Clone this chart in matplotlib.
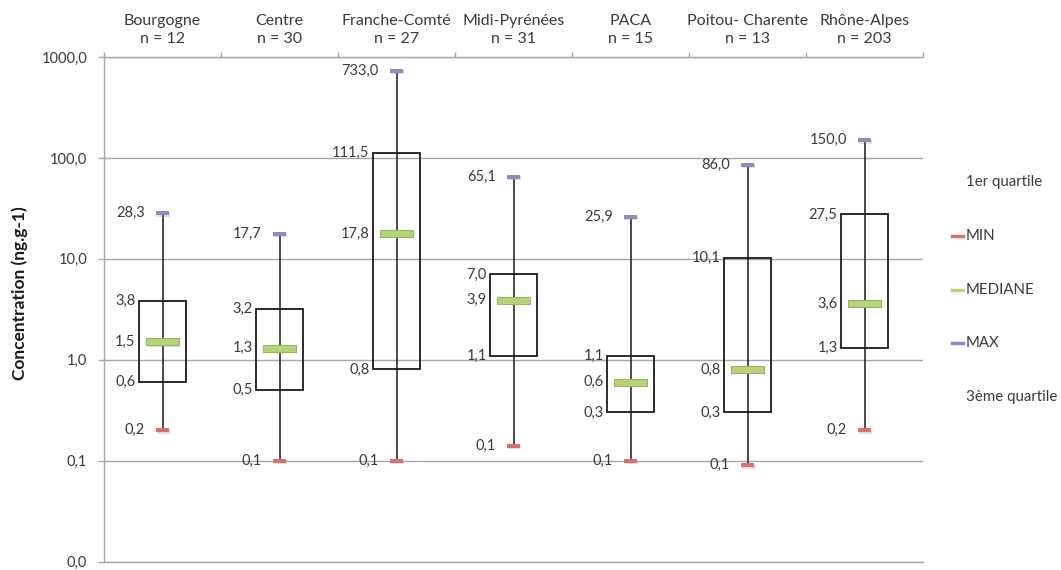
import matplotlib
matplotlib.use("Agg")
import matplotlib.pyplot as plt
from matplotlib.patches import Rectangle
from matplotlib.lines import Line2D
from matplotlib.ticker import FixedLocator, FuncFormatter, NullFormatter, NullLocator
import matplotlib.patheffects as pe

# ---------------- data ----------------
regions = ["Bourgogne", "Centre", "Franche-Comté", "Midi-Pyrénées",
           "PACA", "Poitou- Charente", "Rhône-Alpes"]
counts = [12, 30, 27, 31, 15, 13, 203]
mins = [0.2, 0.1, 0.1, 0.14, 0.1, 0.09, 0.2]
q1 = [0.6, 0.5, 0.8, 1.1, 0.3, 0.3, 1.3]
medians = [1.5, 1.3, 17.8, 3.9, 0.6, 0.8, 3.6]
q3 = [3.8, 3.2, 111.5, 7.0, 1.1, 10.1, 27.5]
maxs = [28.3, 17.7, 733.0, 65.1, 25.9, 86.0, 150.0]
y_ticks = [0.01, 0.1, 1, 10, 100, 1000]
legend_labels = ["1er quartile", "MIN", "MEDIANE", "MAX", "3ème quartile"]
y_label = "Concentration (ng.g-1)"

# ---------------- style ----------------
FONT = "Lato"
TXT = "#3a3a3a"
GRID = "#a8a8a8"
C_MIN = "#d9706c"
C_MED_FACE = "#b5d47c"
C_MED_EDGE = "#96b85a"
C_MAX = "#9a86bf"
FS = 10.5
FS_HEAD = 11.5
FS_LEG = 10.8

plt.rcParams["font.family"] = [FONT, "DejaVu Sans"]

W, H = 1061, 570
fig = plt.figure(figsize=(W / 100, H / 100), dpi=100)
L, R, T, B = 104, 923, 57, 561.5
ax = fig.add_axes([L / W, 1 - B / H, (R - L) / W, (B - T) / H])

ax.set_yscale("log")
ax.set_ylim(0.01, 1000)
ax.set_xlim(0, len(regions))

def fmt(v):
    return f"{v:.1f}".replace(".", ",")

# y axis
ax.yaxis.set_major_locator(FixedLocator(y_ticks))
ax.yaxis.set_minor_locator(NullLocator())
ax.yaxis.set_major_formatter(FuncFormatter(lambda v, p: fmt(v)))
ax.tick_params(axis="y", which="major", length=4.2, width=1, color=GRID,
               labelsize=FS, labelcolor=TXT, pad=8)
ax.yaxis.grid(True, color=GRID, lw=1)
ax.set_axisbelow(True)

# x axis on top
ax.xaxis.tick_top()
ax.xaxis.set_major_locator(FixedLocator(range(len(regions) + 1)))
ax.xaxis.set_major_formatter(NullFormatter())
centers = [i + 0.5 for i in range(len(regions))]
ax.xaxis.set_minor_locator(FixedLocator(centers))
ax.xaxis.set_minor_formatter(FuncFormatter(
    lambda v, p: f"{regions[int(round(v - 0.5))]}\nn = {counts[int(round(v - 0.5))]}"))
ax.tick_params(axis="x", which="major", top=True, bottom=False, length=3.8,
               width=1, color=GRID)
ax.tick_params(axis="x", which="minor", top=True, bottom=False, length=0,
               labelsize=FS_HEAD, labelcolor=TXT, pad=8)
fig.canvas.draw()
for lab in ax.xaxis.get_minorticklabels():
    lab.set_linespacing(1.35)

ax.spines["right"].set_visible(False)
for s in ["left", "top", "bottom"]:
    ax.spines[s].set_color(GRID)
    ax.spines[s].set_linewidth(1)

shadow = [pe.SimplePatchShadow(offset=(1.0, -1.0), alpha=0.25, shadow_rgbFace="#808080"), pe.Normal()]

box_w = 0.40
med_w = 0.275
mk_w = 0.11
px_per_dec = (B - T) / 5.0

def h_in_decades(px):
    return px / px_per_dec

for i, c in enumerate(centers):
    # whisker
    ax.plot([c, c], [mins[i], maxs[i]], color="#1a1a1a", lw=1.1, zorder=3)
    # box
    rect = Rectangle((c - box_w / 2, q1[i]), box_w, q3[i] - q1[i],
                     facecolor="none", edgecolor="#1a1a1a", lw=1.3, zorder=2)
    ax.add_patch(rect)
    # median bar (~7 px tall)
    dh = h_in_decades(3.5)
    lo, hi = medians[i] / 10 ** dh, medians[i] * 10 ** dh
    mrect = Rectangle((c - med_w / 2, lo), med_w, hi - lo,
                      facecolor=C_MED_FACE, edgecolor=C_MED_EDGE, lw=0.8, zorder=4)
    mrect.set_path_effects(shadow)
    ax.add_patch(mrect)
    # min / max markers (~4 px tall)
    for v, col in ((mins[i], C_MIN), (maxs[i], C_MAX)):
        dh = h_in_decades(2.0)
        r = Rectangle((c - mk_w / 2, v / 10 ** dh), mk_w, v * 10 ** dh - v / 10 ** dh,
                      facecolor=col, edgecolor="none", zorder=5)
        r.set_path_effects(shadow)
        ax.add_patch(r)
    # value labels
    for v, off in ((maxs[i], -12.6), (mins[i], -12.6),
                   (q3[i], -19.4), (medians[i], -19.4), (q1[i], -19.4)):
        ax.annotate(fmt(v), (c, v), xytext=(off, 0), textcoords="offset points",
                    ha="right", va="center", fontsize=FS, color=TXT, zorder=6)

# y label
fig.text(20 / W, 1 - 293 / H, y_label, rotation=90, ha="center", va="center",
         fontsize=12.5, fontweight="bold", color="#1a1a1a")

# legend (manual)
leg_y = [182, 236, 290, 343, 397]
leg_col = [None, C_MIN, C_MED_FACE, C_MAX, None]
for lab, yy, col in zip(legend_labels, leg_y, leg_col):
    if col is not None:
        fig.add_artist(Line2D([952 / W, 963 / W], [1 - yy / H, 1 - yy / H],
                              color=col, lw=2.5, transform=fig.transFigure))
    fig.text(966 / W, 1 - yy / H, lab, ha="left", va="center",
             fontsize=FS_LEG, color=TXT)

fig.savefig("out.png", dpi=100)
